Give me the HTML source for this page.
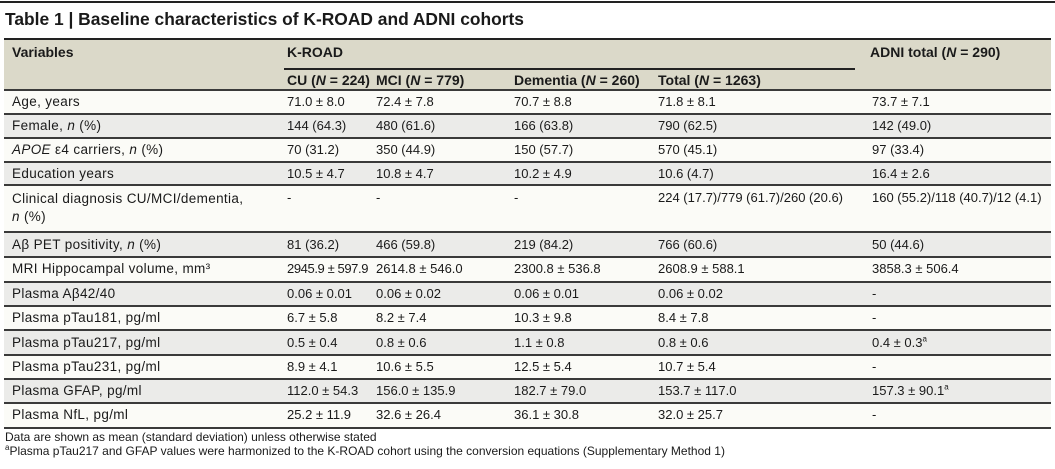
<!DOCTYPE html>
<html><head><meta charset="utf-8"><style>
body{margin:0;width:1055px;height:469px;background:#fff;position:relative;overflow:hidden;font-family:"Liberation Sans",Arial,sans-serif;color:#1a1a1a}
.a{position:absolute;white-space:nowrap;line-height:16px}
.t{font-size:13px}
.h{font-size:14px;font-weight:bold}
.v{font-size:13.5px;letter-spacing:0.35px}
.bg{position:absolute;left:4px;width:1047px}
.ln{position:absolute;left:4px;width:1047px;height:2px;background:#3a3a3a}
</style></head><body>
<div class="a" style="left:0;top:1px;width:1055px;height:2px;background:#222"></div>
<div class="a" style="left:5px;top:8px;font-size:17.4px;font-weight:bold;line-height:22px">Table 1 | Baseline characteristics of K-ROAD and ADNI cohorts</div>

<div class="bg" style="top:39px;height:50px;background:#dbd9c9"></div>
<div class="ln" style="top:38px;height:2px;background:#222"></div>
<div class="a" style="left:284px;top:68px;width:571px;height:2px;background:#222"></div>

<div class="bg" style="top:90px;height:24px;background:#fbfbf7"></div>
<div class="bg" style="top:114px;height:24px;background:#ebebe9"></div>
<div class="bg" style="top:138px;height:24px;background:#fbfbf7"></div>
<div class="bg" style="top:162px;height:23px;background:#ebebe9"></div>
<div class="bg" style="top:185px;height:47px;background:#fbfbf7"></div>
<div class="bg" style="top:232px;height:25px;background:#ebebe9"></div>
<div class="bg" style="top:257px;height:25px;background:#fbfbf7"></div>
<div class="bg" style="top:282px;height:24px;background:#ebebe9"></div>
<div class="bg" style="top:306px;height:24px;background:#fbfbf7"></div>
<div class="bg" style="top:330px;height:25px;background:#ebebe9"></div>
<div class="bg" style="top:355px;height:24px;background:#fbfbf7"></div>
<div class="bg" style="top:379px;height:24px;background:#ebebe9"></div>
<div class="bg" style="top:403px;height:24px;background:#fbfbf7"></div>

<div class="ln" style="top:89px"></div>
<div class="ln" style="top:113px"></div>
<div class="ln" style="top:137px"></div>
<div class="ln" style="top:161px"></div>
<div class="ln" style="top:184px"></div>
<div class="ln" style="top:231px"></div>
<div class="ln" style="top:256px"></div>
<div class="ln" style="top:281px"></div>
<div class="ln" style="top:305px"></div>
<div class="ln" style="top:329px"></div>
<div class="ln" style="top:354px"></div>
<div class="ln" style="top:378px"></div>
<div class="ln" style="top:402px"></div>
<div class="ln" style="top:427px"></div>

<div class="a h" style="left:12px;top:44px">Variables</div>
<div class="a h" style="left:287px;top:44px">K-ROAD</div>
<div class="a h" style="left:870px;top:44px">ADNI total (<i>N</i> = 290)</div>
<div class="a h" style="left:287px;top:72px">CU (<i>N</i> = 224)</div>
<div class="a h" style="left:376px;top:72px">MCI (<i>N</i> = 779)</div>
<div class="a h" style="left:514px;top:72px">Dementia (<i>N</i> = 260)</div>
<div class="a h" style="left:658px;top:72px">Total (<i>N</i> = 1263)</div>

<div class="a v" style="left:12px;top:94px">Age, years</div>
<div class="a v" style="left:12px;top:118px">Female, <i>n</i> (%)</div>
<div class="a v" style="left:12px;top:142px"><i>APOE</i> ε4 carriers, <i>n</i> (%)</div>
<div class="a v" style="left:12px;top:166px">Education years</div>
<div class="a v" style="left:12px;top:190px;line-height:18px">Clinical diagnosis CU/MCI/dementia,<br><i>n</i> (%)</div>
<div class="a v" style="left:12px;top:237px">Aβ PET positivity, <i>n</i> (%)</div>
<div class="a v" style="left:12px;top:261px">MRI Hippocampal volume, mm³</div>
<div class="a v" style="left:12px;top:286px">Plasma Aβ42/40</div>
<div class="a v" style="left:12px;top:310px">Plasma pTau181, pg/ml</div>
<div class="a v" style="left:12px;top:335px">Plasma pTau217, pg/ml</div>
<div class="a v" style="left:12px;top:359px">Plasma pTau231, pg/ml</div>
<div class="a v" style="left:12px;top:383px">Plasma GFAP, pg/ml</div>
<div class="a v" style="left:12px;top:407px">Plasma NfL, pg/ml</div>

<div class="a t" style="left:287px;top:94px">71.0 ± 8.0</div>
<div class="a t" style="left:376px;top:94px">72.4 ± 7.8</div>
<div class="a t" style="left:514px;top:94px">70.7 ± 8.8</div>
<div class="a t" style="left:658px;top:94px">71.8 ± 8.1</div>
<div class="a t" style="left:872px;top:94px">73.7 ± 7.1</div>

<div class="a t" style="left:287px;top:118px">144 (64.3)</div>
<div class="a t" style="left:376px;top:118px">480 (61.6)</div>
<div class="a t" style="left:514px;top:118px">166 (63.8)</div>
<div class="a t" style="left:658px;top:118px">790 (62.5)</div>
<div class="a t" style="left:872px;top:118px">142 (49.0)</div>

<div class="a t" style="left:287px;top:142px">70 (31.2)</div>
<div class="a t" style="left:376px;top:142px">350 (44.9)</div>
<div class="a t" style="left:514px;top:142px">150 (57.7)</div>
<div class="a t" style="left:658px;top:142px">570 (45.1)</div>
<div class="a t" style="left:872px;top:142px">97 (33.4)</div>

<div class="a t" style="left:287px;top:166px">10.5 ± 4.7</div>
<div class="a t" style="left:376px;top:166px">10.8 ± 4.7</div>
<div class="a t" style="left:514px;top:166px">10.2 ± 4.9</div>
<div class="a t" style="left:658px;top:166px">10.6 (4.7)</div>
<div class="a t" style="left:872px;top:166px">16.4 ± 2.6</div>

<div class="a t" style="left:287px;top:190px">-</div>
<div class="a t" style="left:376px;top:190px">-</div>
<div class="a t" style="left:514px;top:190px">-</div>
<div class="a t" style="left:658px;top:190px">224 (17.7)/779 (61.7)/260 (20.6)</div>
<div class="a t" style="left:872px;top:190px">160 (55.2)/118 (40.7)/12 (4.1)</div>

<div class="a t" style="left:287px;top:237px">81 (36.2)</div>
<div class="a t" style="left:376px;top:237px">466 (59.8)</div>
<div class="a t" style="left:514px;top:237px">219 (84.2)</div>
<div class="a t" style="left:658px;top:237px">766 (60.6)</div>
<div class="a t" style="left:872px;top:237px">50 (44.6)</div>

<div class="a t" style="left:287px;top:261px;letter-spacing:-0.4px">2945.9 ± 597.9</div>
<div class="a t" style="left:376px;top:261px">2614.8 ± 546.0</div>
<div class="a t" style="left:514px;top:261px">2300.8 ± 536.8</div>
<div class="a t" style="left:658px;top:261px">2608.9 ± 588.1</div>
<div class="a t" style="left:872px;top:261px">3858.3 ± 506.4</div>

<div class="a t" style="left:287px;top:286px">0.06 ± 0.01</div>
<div class="a t" style="left:376px;top:286px">0.06 ± 0.02</div>
<div class="a t" style="left:514px;top:286px">0.06 ± 0.01</div>
<div class="a t" style="left:658px;top:286px">0.06 ± 0.02</div>
<div class="a t" style="left:872px;top:286px">-</div>

<div class="a t" style="left:287px;top:310px">6.7 ± 5.8</div>
<div class="a t" style="left:376px;top:310px">8.2 ± 7.4</div>
<div class="a t" style="left:514px;top:310px">10.3 ± 9.8</div>
<div class="a t" style="left:658px;top:310px">8.4 ± 7.8</div>
<div class="a t" style="left:872px;top:310px">-</div>

<div class="a t" style="left:287px;top:335px">0.5 ± 0.4</div>
<div class="a t" style="left:376px;top:335px">0.8 ± 0.6</div>
<div class="a t" style="left:514px;top:335px">1.1 ± 0.8</div>
<div class="a t" style="left:658px;top:335px">0.8 ± 0.6</div>
<div class="a t" style="left:872px;top:335px">0.4 ± 0.3<sup style="font-size:8px;line-height:0">a</sup></div>

<div class="a t" style="left:287px;top:359px">8.9 ± 4.1</div>
<div class="a t" style="left:376px;top:359px">10.6 ± 5.5</div>
<div class="a t" style="left:514px;top:359px">12.5 ± 5.4</div>
<div class="a t" style="left:658px;top:359px">10.7 ± 5.4</div>
<div class="a t" style="left:872px;top:359px">-</div>

<div class="a t" style="left:287px;top:383px">112.0 ± 54.3</div>
<div class="a t" style="left:376px;top:383px">156.0 ± 135.9</div>
<div class="a t" style="left:514px;top:383px">182.7 ± 79.0</div>
<div class="a t" style="left:658px;top:383px">153.7 ± 117.0</div>
<div class="a t" style="left:872px;top:383px">157.3 ± 90.1<sup style="font-size:8px;line-height:0">a</sup></div>

<div class="a t" style="left:287px;top:407px">25.2 ± 11.9</div>
<div class="a t" style="left:376px;top:407px">32.6 ± 26.4</div>
<div class="a t" style="left:514px;top:407px">36.1 ± 30.8</div>
<div class="a t" style="left:658px;top:407px">32.0 ± 25.7</div>
<div class="a t" style="left:872px;top:407px">-</div>

<div class="a" style="left:5px;top:429px;font-size:12px">Data are shown as mean (standard deviation) unless otherwise stated</div>
<div class="a" style="left:5px;top:443px;font-size:12px"><sup style="font-size:8px;line-height:0">a</sup>Plasma pTau217 and GFAP values were harmonized to the K-ROAD cohort using the conversion equations (Supplementary Method 1)</div>
</body></html>
